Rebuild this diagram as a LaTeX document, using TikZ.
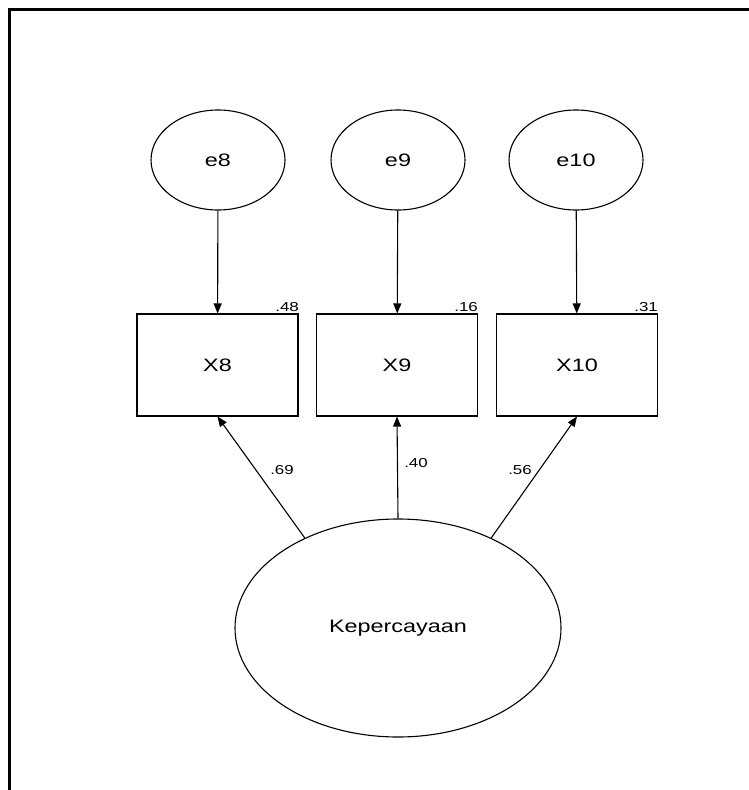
\documentclass[tikz,border=0pt]{standalone}
\usepackage{fontspec}
\usepackage{graphicx}
\setmainfont{Liberation Sans}
\usetikzlibrary{arrows.meta,shapes.geometric}
\newcommand{\hs}[1]{\scalebox{1.3}[1]{#1}}
\tikzset{
  lat/.style={draw, ellipse, line width=1.1pt, inner sep=0pt, font=\fontsize{18}{21}\selectfont},
  obs/.style={draw, rectangle, line width=1.1pt, inner sep=0pt, minimum width=161pt, minimum height=102pt, font=\fontsize{18}{21}\selectfont},
  small/.style={inner sep=0pt, font=\fontsize{13}{15}\selectfont},
  arr/.style={line width=1.1pt, -{Triangle[length=10pt,width=8pt]}},
  frame/.style={line width=2.2pt}
}
\begin{document}
\begin{tikzpicture}[x=1pt,y=-1pt]
\useasboundingbox (0,0) rectangle (749,790);
\coordinate (fb) at (9.5,790);
\coordinate (fc) at (9.5,9.5);
\coordinate (fr) at (749,9.5);
\draw[frame] (fb) -- (fc) -- (fr);
% error terms
\node[lat, minimum width=134pt, minimum height=100pt] (e8) at (218,160) {\hs{e8}};
\node[lat, minimum width=134pt, minimum height=100pt] (e9) at (398,160) {\hs{e9}};
\node[lat, minimum width=134pt, minimum height=100pt] (e10) at (576,160) {\hs{e10}};
% observed
\node[obs] (X8) at (217.5,365) {\hs{X8}};
\node[obs] (X9) at (397,365) {\hs{X9}};
\node[obs] (X10) at (577,365) {\hs{X10}};
% r-square labels
\node[small, anchor=base east] (r8) at (299,311) {\hs{.48}};
\node[small, anchor=base east] (r9) at (478,311) {\hs{.16}};
\node[small, anchor=base east] (r10) at (658,311) {\hs{.31}};
% latent
\node[lat, minimum width=326pt, minimum height=218pt] (K) at (398,628) {\hs{Kepercayaan}};
% arrows
\draw[arr] (e8) -- (X8);
\draw[arr] (e9) -- (X9);
\draw[arr] (e10) -- (X10);
\draw[arr] (K.136) -- (X8.south);
\draw[arr] (K.north) -- (X9.south);
\draw[arr] (K.44) -- (X10.south);
% loadings
\node[small] (l8) at (282,470) {\hs{.69}};
\node[small] (l9) at (416,463) {\hs{.40}};
\node[small] (l10) at (520,470) {\hs{.56}};
\end{tikzpicture}
\end{document}
